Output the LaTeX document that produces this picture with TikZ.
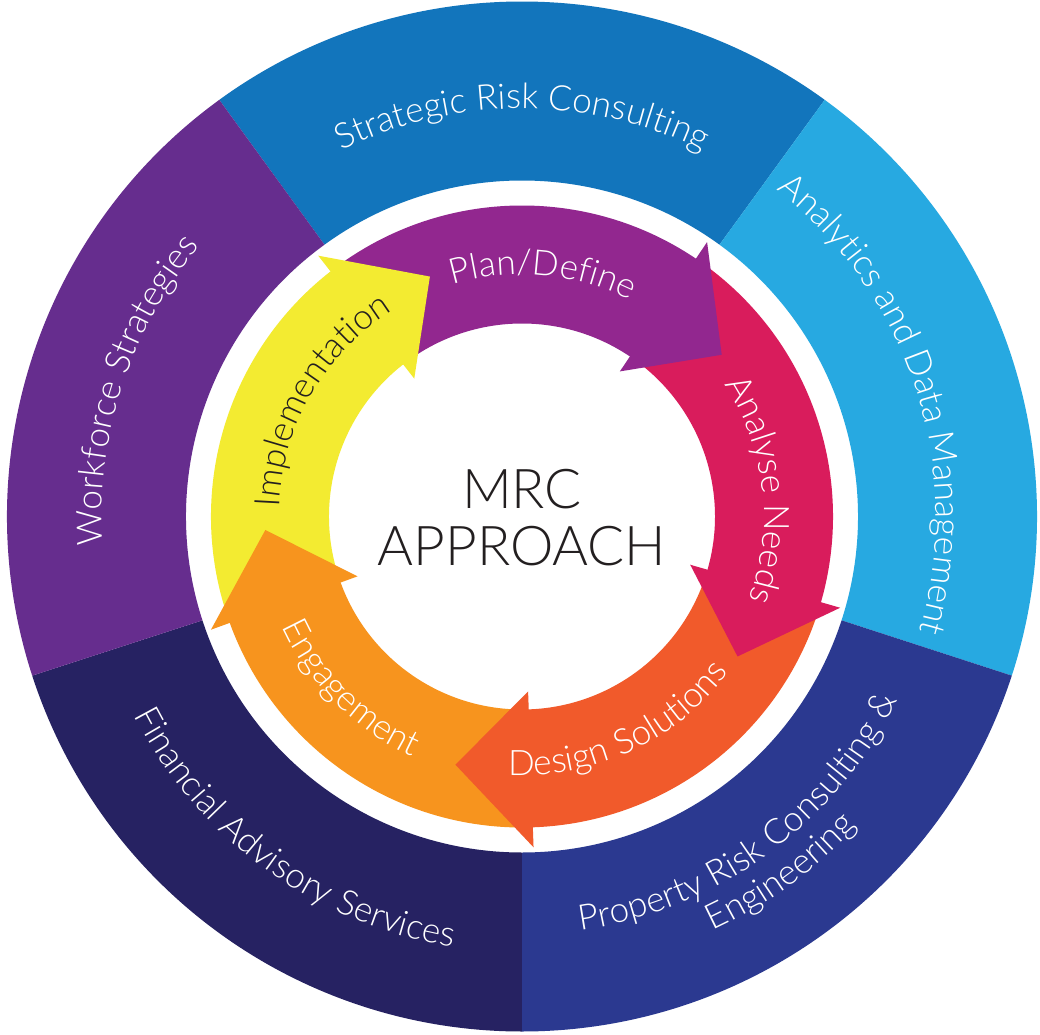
\documentclass[tikz,border=0pt]{standalone}
\usepackage{fontspec}
\setmainfont{Lato Light}
\usetikzlibrary{decorations.text}

\definecolor{stratblue}{HTML}{1275BC}
\definecolor{datablue}{HTML}{27A9E1}
\definecolor{propnavy}{HTML}{2B3990}
\definecolor{finnavy}{HTML}{262262}
\definecolor{workpurple}{HTML}{662D8E}
\definecolor{planpurple}{HTML}{92278F}
\definecolor{needspink}{HTML}{D91C5C}
\definecolor{designred}{HTML}{F15A2B}
\definecolor{engorange}{HTML}{F7941E}
\definecolor{implyellow}{HTML}{F3EB31}
\definecolor{inkgrey}{HTML}{231F20}

\newcommand\ringfont{\fontsize{25}{30}\selectfont}

\begin{document}
\begin{tikzpicture}[x=0.025cm, y=0.025cm,
    ringlabel/.style={decorate, decoration={text along path, text align=center, text={#1}}}]
        \useasboundingbox[fill=white] (-522,-517.5) rectangle (518,516.5);

        % outer ring, five sectors of 72 degrees
        \fill[stratblue] (126:336) arc[start angle=126, end angle=54, radius=336] -- (54:515) arc[start angle=54, end angle=126, radius=515] -- cycle;
        \fill[datablue] (54:336) arc[start angle=54, end angle=-18, radius=336] -- (-18:515) arc[start angle=-18, end angle=54, radius=515] -- cycle;
        \fill[propnavy] (-18:336) arc[start angle=-18, end angle=-90, radius=336] -- (-90:515) arc[start angle=-90, end angle=-18, radius=515] -- cycle;
        \fill[finnavy] (-90:336) arc[start angle=-90, end angle=-162, radius=336] -- (-162:515) arc[start angle=-162, end angle=-90, radius=515] -- cycle;
        \fill[workpurple] (198:336) arc[start angle=198, end angle=126, radius=336] -- (126:515) arc[start angle=126, end angle=198, radius=515] -- cycle;

        \path[ringlabel={|\color{white}\ringfont|Strategic Risk Consulting}] (126:408) arc[start angle=126, end angle=54, radius=408];
        \path[ringlabel={|\color{white}\ringfont|Analytics and Data Management}] (54:414) arc[start angle=54, end angle=-18, radius=414];
        \path[ringlabel={|\color{white}\ringfont|Workforce Strategies}] (198:420) arc[start angle=198, end angle=126, radius=420];
        \path[ringlabel={|\color{white}\ringfont|Financial Advisory Services}] (198:436) arc[start angle=198, end angle=270, radius=436];
        \path[ringlabel={|\color{white}\ringfont|Property Risk Consulting {\&}}] (270:418) arc[start angle=270, end angle=342, radius=418];
        \path[ringlabel={|\color{white}\ringfont|Engineering}] (270:456) arc[start angle=270, end angle=342, radius=456];

        % arrow bands, each one starting and ending just under a head
        \fill[implyellow] (198:193) arc[start angle=198, end angle=126, radius=193] -- (126:311) arc[start angle=126, end angle=198, radius=311] -- cycle;
        \fill[planpurple] (126:193) arc[start angle=126, end angle=54, radius=193] -- (54:311) arc[start angle=54, end angle=126, radius=311] -- cycle;
        \fill[needspink] (54:193) arc[start angle=54, end angle=-18, radius=193] -- (-18:311) arc[start angle=-18, end angle=54, radius=311] -- cycle;
        \fill[designred] (-18:193) arc[start angle=-18, end angle=-90, radius=193] -- (-90:311) arc[start angle=-90, end angle=-18, radius=311] -- cycle;
        \fill[engorange] (-90:193) arc[start angle=-90, end angle=-162, radius=193] -- (-162:311) arc[start angle=-162, end angle=-90, radius=311] -- cycle;

        % arrow heads on top of the next band
        \fill[implyellow] (128:175) -- (128:331) -- (111:257) -- cycle;
        \fill[planpurple] (56:175) -- (56:331) -- (39:257) -- cycle;
        \fill[needspink] (-16:175) -- (-16:331) -- (-33:257) -- cycle;
        \fill[designred] (-88:175) -- (-88:331) -- (-105:257) -- cycle;
        \fill[engorange] (-160:175) -- (-160:331) -- (-177:257) -- cycle;

        \path[ringlabel={|\color{inkgrey}\ringfont|Implementation}] (185:243) arc[start angle=185, end angle=115, radius=243];
        \path[ringlabel={|\color{white}\ringfont|Plan/Define}] (120:242) arc[start angle=120, end angle=50, radius=242];
        \path[ringlabel={|\color{white}\ringfont|Analyse Needs}] (41.5:242) arc[start angle=41.5, end angle=-28.5, radius=242];
        \path[ringlabel={|\color{white}\ringfont|Design Solutions}] (255:259) arc[start angle=255, end angle=335, radius=259];
        \path[ringlabel={|\color{white}\ringfont|Engagement}] (190:264) arc[start angle=190, end angle=260, radius=264];

        \node[align=center, text=inkgrey, font=\fontsize{39}{40}\selectfont] (mrc) at (0,-1) {MRC\\APPROACH};

    \end{tikzpicture}
\end{document}
